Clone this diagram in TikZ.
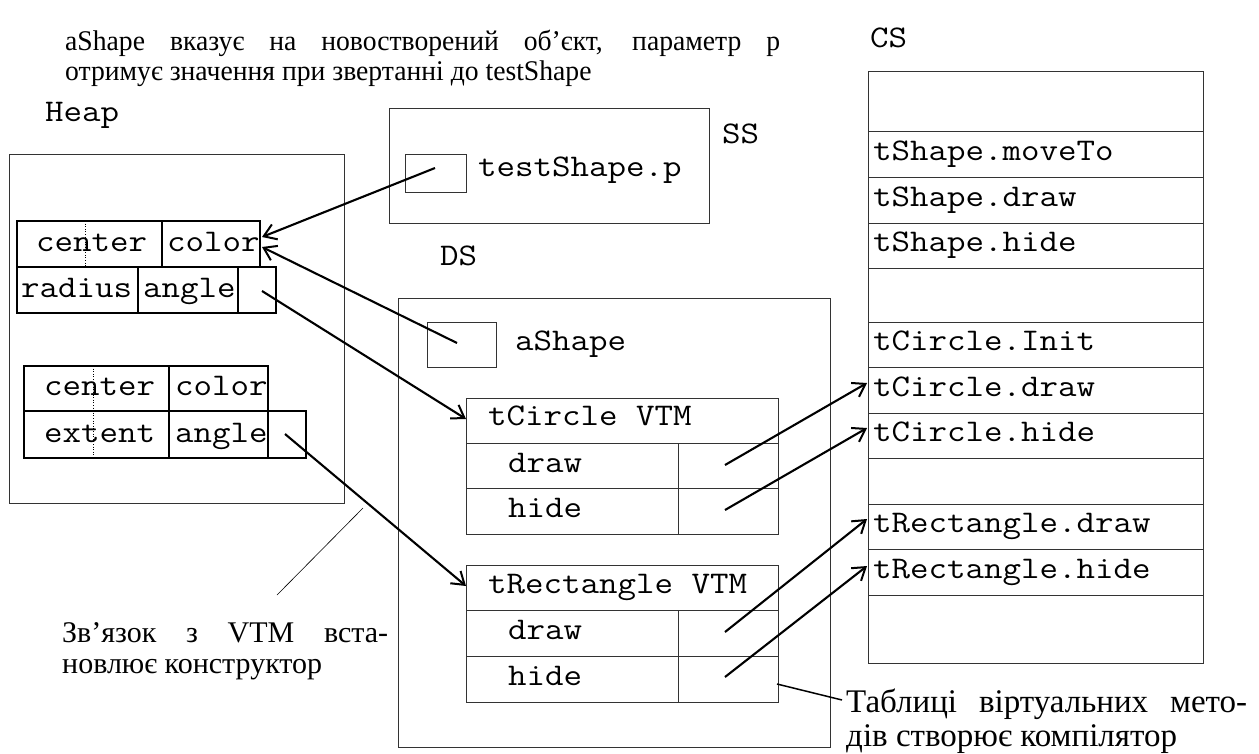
\documentclass[tikz,border=0pt]{standalone}
\usepackage{fontspec}
\setmainfont{Liberation Serif}
\newfontfamily\condserif[FakeStretch=0.97]{Liberation Serif}
\setmonofont[FakeStretch=1.14]{Latin Modern Mono}
\usetikzlibrary{arrows.meta}
\begin{document}
\begin{tikzpicture}[x=1pt,y=-1pt,
  thinbox/.style={draw=black!80, line width=0.9pt},
  rec/.style={draw=black, line width=1.7pt},
  dots/.style={draw=black, line width=0.6pt, dotted},
  mono/.style={font=\fontsize{31.5}{32}\ttfamily, inner sep=0pt, anchor=base west},
  serif/.style={font=\fontsize{28.5}{30}\condserif, inner sep=0pt, anchor=base west},
  serifl/.style={font=\fontsize{30}{32}\selectfont, inner sep=0pt, anchor=base west},
  serifr/.style={font=\fontsize{33}{35}\selectfont, inner sep=0pt, anchor=base west},
  ptr/.style={line width=2.1pt, -{Straight Barb[length=12pt,width=16pt,line width=2pt]}},
  note/.style={line width=0.6pt}
]
\useasboundingbox (0,0) rectangle (1259,753);

% ---------- titles ----------
\node[serif] (t1) at (65,50) {\makebox[715pt][s]{aShape вказує на новостворений об’єкт, параметр р}};
\node[serif] (t2) at (65,80) {отримує значення при звертанні до testShape};

% ---------- Heap ----------
\node[mono] (heapl) at (45,121) {Heap};
\draw[thinbox] (9,154) rectangle (344,503);
% record 1
\draw[rec] (17,221) rectangle (260,267) (162,221)--(162,267);
\draw[rec] (17,267) rectangle (276,313) (138,267)--(138,313) (238,267)--(238,313);
\draw[dots] (85,221)--(85,267);
\node[mono] (r1c) at (36,251) {center};
\node[mono] (r1k) at (167,251) {color};
\node[mono] (r1r) at (21,297) {radius};
\node[mono] (r1a) at (143,297) {angle};
% record 2
\draw[rec] (24,366) rectangle (268,411) (169,366)--(169,411);
\draw[rec] (24,411) rectangle (306,458) (169,411)--(169,458) (268,411)--(268,458);
\draw[dots] (93,366)--(93,458);
\node[mono] (r2c) at (44,395) {center};
\node[mono] (r2k) at (175,395) {color};
\node[mono] (r2e) at (44,442) {extent};
\node[mono] (r2a) at (175,442) {angle};

% ---------- SS ----------
\draw[thinbox] (389,108) rectangle (709,223);
\draw[thinbox] (405,154) rectangle (466,192);
\node[mono] (tsp) at (478,176) {testShape.p};
\node[mono] (ssl) at (722,143) {SS};
\node[mono] (dsl) at (440,265) {DS};

% ---------- DS ----------
\draw[thinbox] (398,298) rectangle (830,747);
\draw[thinbox] (427,322) rectangle (496,367);
\node[mono] (ash) at (515,350) {aShape};
% tCircle VTM
\draw[thinbox] (466,398) rectangle (778,534) (466,443)--(778,443) (466,488)--(778,488) (678,443)--(678,534);
\node[mono] (v1h) at (488,425) {tCircle VTM};
\node[mono] (v1d) at (508,472) {draw};
\node[mono] (v1x) at (508,517) {hide};
% tRectangle VTM
\draw[thinbox] (466,565) rectangle (778,702) (466,610)--(778,610) (466,656)--(778,656) (678,610)--(678,702);
\node[mono] (v2h) at (488,593) {tRectangle VTM};
\node[mono] (v2d) at (508,639) {draw};
\node[mono] (v2x) at (508,685) {hide};

% ---------- CS ----------
\node[mono] (csl) at (870,47) {CS};
\draw[thinbox] (868,71) rectangle (1203,663);
\foreach \yy in {131,177,223,268,322,367,413,458,504,549,595}
  \draw[thinbox] (868,\yy)--(1203,\yy);
\node[mono] (c1) at (873,160) {tShape.moveTo};
\node[mono] (c2) at (873,206) {tShape.draw};
\node[mono] (c3) at (873,251) {tShape.hide};
\node[mono] (c4) at (873,350) {tCircle.Init};
\node[mono] (c5) at (873,396) {tCircle.draw};
\node[mono] (c6) at (873,441) {tCircle.hide};
\node[mono] (c7) at (873,532) {tRectangle.draw};
\node[mono] (c8) at (873,578) {tRectangle.hide};

% ---------- connector end points ----------
\coordinate (ssp) at (435,168);
\coordinate (ap) at (457,343);
\coordinate (r1in1) at (262,237);
\coordinate (r1in2) at (262,247);
\coordinate (p1) at (262,291);
\coordinate (p2) at (285,434);
\coordinate (v1in) at (466,419);
\coordinate (v2in) at (466,586);
\coordinate (v1p1) at (725,465);
\coordinate (v1p2) at (725,510);
\coordinate (v2p1) at (725,632);
\coordinate (v2p2) at (725,677);
\coordinate (cs5) at (867,383);
\coordinate (cs6) at (867,428);
\coordinate (cs7) at (867,519);
\coordinate (cs8) at (867,566);

\draw[ptr] (ssp) -- (r1in1);
\draw[ptr] (ap) -- (r1in2);
\draw[ptr] (p1) -- (v1in);
\draw[ptr] (p2) -- (v2in);
\draw[ptr] (v1p1) -- (cs5);
\draw[ptr] (v1p2) -- (cs6);
\draw[ptr] (v2p1) -- (cs7);
\draw[ptr] (v2p2) -- (cs8);

% ---------- notes ----------
\coordinate (n1a) at (363,508);
\coordinate (n1b) at (277,595);
\draw[note] (n1a) -- (n1b);
\node[serifl] (l1) at (62,642) {\makebox[326pt][s]{Зв’язок з VTM вста-}};
\node[serifl] (l2) at (62,673) {новлює конструктор};

\coordinate (n2a) at (777,684);
\coordinate (n2b) at (842,700);
\draw[line width=1.5pt] (n2a) -- (n2b);
\node[serifr] (m1) at (846,712) {\makebox[401pt][s]{Таблиці віртуальних мето-}};
\node[serifr] (m2) at (846,746) {дів створює компілятор};
\end{tikzpicture}
\end{document}
